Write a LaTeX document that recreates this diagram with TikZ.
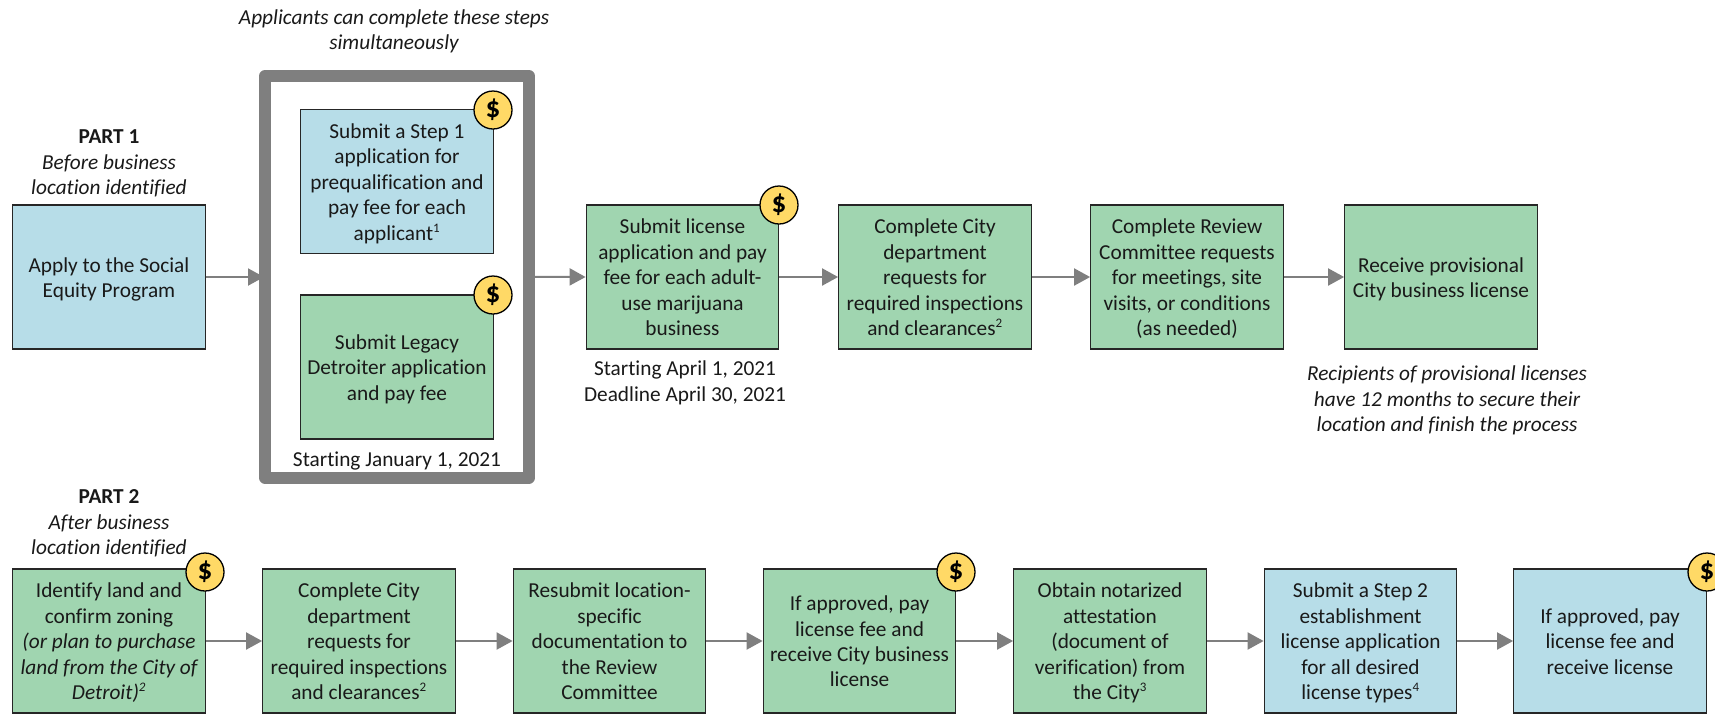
\documentclass[tikz,border=0pt]{standalone}
\usepackage{fontspec}
\setmainfont[Ligatures=NoCommon]{Carlito}
\usetikzlibrary{arrows.meta}
\definecolor{bluefill}{HTML}{B7DDE8}
\definecolor{greenfill}{HTML}{A0D5B0}
\definecolor{coinfill}{HTML}{FFD966}
\definecolor{framegray}{HTML}{7F7F7F}
\definecolor{edgedark}{HTML}{262626}
\newcommand{\supmark}[1]{\textsuperscript{\fontsize{13}{13}\selectfont #1}}
\newcommand{\lead}{\rule{0pt}{21.4pt}}
\newcommand{\coinmark}{\raisebox{-1pt}{\$}}
\tikzset{
  basetext/.style={font=\fontsize{21.3}{25.4}\selectfont, align=center, inner sep=0pt, text=black!90},
  proc/.style={basetext, draw=edgedark, line width=1.3pt, minimum width=192.5pt, minimum height=144pt,
    execute at end node={\rule[-6pt]{0pt}{6pt}}},
  bluebox/.style={proc, fill=bluefill},
  greenbox/.style={proc, fill=greenfill},
  caption/.style={basetext},
  coin/.style={circle, draw=black, fill=coinfill, line width=1.3pt, minimum size=38pt, inner sep=0pt,
    font=\fontsize{29}{29}\bfseries\selectfont},
  holder/.style={draw=framegray, fill=white, line width=12pt, line join=round, minimum width=264pt, minimum height=401.5pt, inner sep=0pt},
  flow/.style={draw=framegray, line width=2pt, -{Triangle[length=16pt,width=17pt]}}
}
\begin{document}
\begin{tikzpicture}[x=1pt,y=-1pt]
\useasboundingbox (0,0) rectangle (1715,713);
\node[caption] (ttl) at (394,31.5) {\itshape Applicants can complete these steps\\\itshape simultaneously};
\node[caption] (p1) at (109,163.5) {\textbf{PART 1}\\\itshape Before business\\\itshape location identified};
\node[caption] (p2) at (109,523.5) {\textbf{PART 2}\\\itshape After business\\\itshape location identified};
\node[bluebox] (a0) at (109,277) {\lead Apply to the Social\\Equity Program};
\coordinate (hiddentip) at (264,277);
\draw[flow] (a0.east) -- (hiddentip);
\node[holder] (frame) at (397,276.75) {};
\node[bluebox] (s1) at (397,181.5) {\lead Submit a Step 1\\application for\\prequalification and\\pay fee for each\\applicant\supmark{1}};
\node[greenbox] (s2) at (397,367) {\lead Submit Legacy\\Detroiter application\\and pay fee};
\node[caption] (jan) at (397,461) {Starting January 1, 2021};
\node[greenbox] (b1) at (682.5,277) {\lead Submit license\\application and pay\\fee for each adult-\\use marijuana\\business};
\node[greenbox] (b2) at (935,277) {\lead Complete City\\department\\requests for\\required inspections\\and clearances\supmark{2}};
\node[greenbox] (b3) at (1187,277) {\lead Complete Review\\Committee requests\\for meetings, site\\visits, or conditions\\(as needed)};
\node[greenbox] (b4) at (1441,277) {\lead Receive provisional\\City business license};
\node[caption] (apr) at (685,383) {Starting April 1, 2021\\Deadline April 30, 2021};
\node[caption] (rec) at (1447,400.5) {\itshape Recipients of provisional licenses\\\itshape have 12 months to secure their\\\itshape location and finish the process};
\node[greenbox] (c1) at (109,641) {\lead Identify land and\\confirm zoning\\\itshape (or plan to purchase\\\itshape land from the City of\\\itshape Detroit)\supmark{2}};
\node[greenbox] (c2) at (359,641) {\lead Complete City\\department\\requests for\\required inspections\\and clearances\supmark{2}};
\node[greenbox] (c3) at (609.5,641) {\lead Resubmit location-\\specific\\documentation to\\the Review\\Committee};
\node[greenbox] (c4) at (859.5,641) {\lead If approved, pay\\license fee and\\receive City business\\license};
\node[greenbox] (c5) at (1110,641) {\lead Obtain notarized\\attestation\\(document of\\verification) from\\the City\supmark{3}};
\node[bluebox] (c6) at (1360.5,641) {\lead Submit a Step 2\\establishment\\license application\\for all desired\\license types\supmark{4}};
\node[bluebox] (c7) at (1610,641) {\lead If approved, pay\\license fee and\\receive license};
\node[coin] (d1) at (493,110) {\coinmark};
\node[coin] (d2) at (493,295) {\coinmark};
\node[coin] (d3) at (779,205) {\coinmark};
\node[coin] (d4) at (205,572) {\coinmark};
\node[coin] (d5) at (956,572) {\coinmark};
\node[coin] (d6) at (1707,572) {\coinmark};
\draw[flow] (frame.east) -- (b1.west);
\draw[flow] (b1.east) -- (b2.west);
\draw[flow] (b2.east) -- (b3.west);
\draw[flow] (b3.east) -- (b4.west);
\draw[flow] (c1.east) -- (c2.west);
\draw[flow] (c2.east) -- (c3.west);
\draw[flow] (c3.east) -- (c4.west);
\draw[flow] (c4.east) -- (c5.west);
\draw[flow] (c5.east) -- (c6.west);
\draw[flow] (c6.east) -- (c7.west);
\end{tikzpicture}
\end{document}
